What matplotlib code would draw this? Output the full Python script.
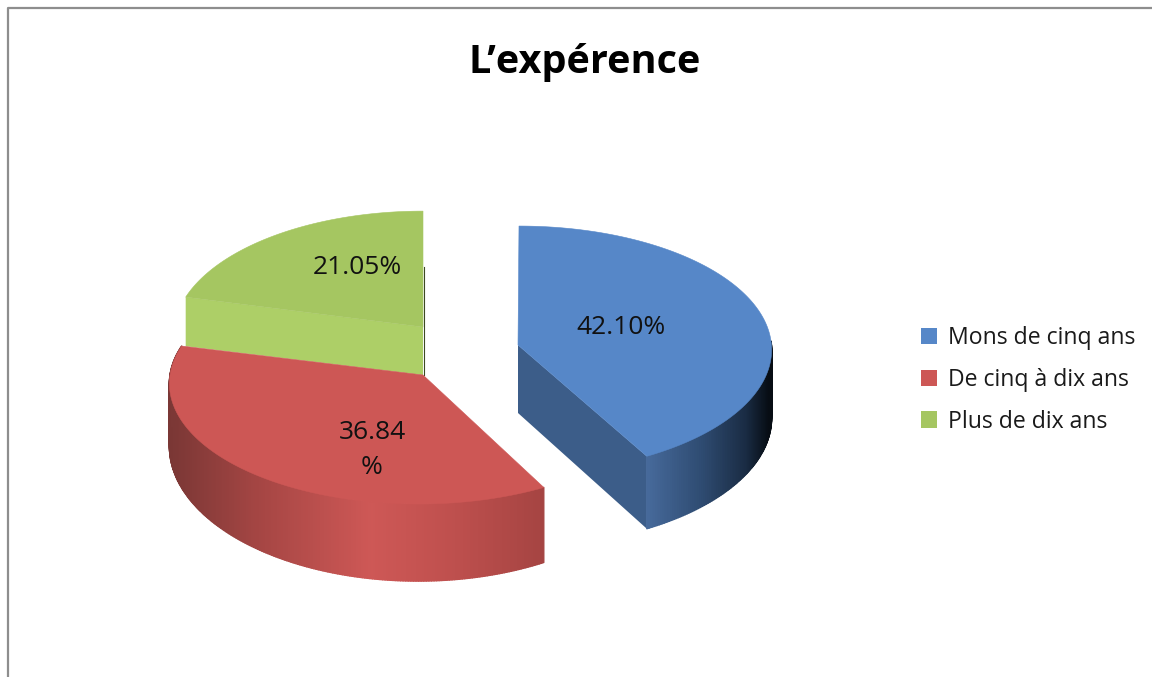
import numpy as np
import matplotlib
matplotlib.use("Agg")
import matplotlib.pyplot as plt
from matplotlib.patches import Polygon, Patch
from matplotlib.collections import PolyCollection

# ---- data ----
title = "L\u2019exp\u00e9rence"
categories = ["Mons de cinq ans", "De cinq \u00e0 dix ans", "Plus de dix ans"]
shares = [42.10, 36.84, 21.05]
value_labels = ["42.10%", "36.84\n%", "21.05%"]

# ---- style ----
FONT = "Open Sans"
top_colors = ["#5687C8", "#CD5755", "#A5C661"]
cut_colors = ["#3C5D89", None, "#ADCF67"]
apexes = [(518, 345), (423, 375), (423, 327)]
centers = [(519, 341), (418, 375), (423, 327)]
radii_x = [252, 248, 249]
radii_y = [123, 120, 124]
wall_h = [68, 62, 48]
wall_p = [1, 3, 1]
K = 0.07
wall_stops = [
    [(648, "#46699A"), (700, "#2F4C72"), (745, "#1A2C44"), (768, "#070D14")],
    [(169, "#7A3735"), (260, "#A64644"), (370, "#CE5856"), (450, "#BF504E"), (544, "#A54442")],
    None,
]

fig = plt.figure(figsize=(11.52, 6.77), dpi=100)
ax = fig.add_axes([0, 0, 1, 1])
ax.set_xlim(0, 1152)
ax.set_ylim(677, 0)
ax.axis("off")

# frame
ax.plot([8, 8, 1152], [677, 8, 8], color="#8E8E8E", lw=1.6, zorder=1)

fractions = np.array(shares) / np.sum(shares)
edges = np.concatenate([[0], np.cumsum(fractions)]) * 2 * np.pi


def wall_color(stops, x):
    xs = np.array([p[0] for p in stops], float)
    cols = np.array([matplotlib.colors.to_rgb(p[1]) for p in stops])
    return [float(np.interp(x, xs, cols[:, i])) for i in range(3)]


# drawing order: green (back), blue, red
for i in [2, 0, 1]:
    a0, a1 = edges[i], edges[i + 1]
    c, ap = centers[i], apexes[i]
    th = np.linspace(a0, a1, 240)
    u, v = np.sin(th), np.cos(th)
    s = 1 / (1 + K * v)
    x = c[0] + radii_x[i] * u * s
    y = c[1] - radii_y[i] * v * s
    h = wall_h[i] * s ** wall_p[i]
    z = 2 + i * 0.1 if i != 1 else 4

    # cut face
    if i == 0:
        ax.add_patch(Polygon([ap, (x[-1], y[-1]), (x[-1], y[-1] + h[-1]),
                              (ap[0], ap[1] + wall_h[i])],
                             fc=cut_colors[i], ec="none", zorder=z))
    if i == 2:
        ax.add_patch(Polygon([ap, (x[0], y[0]), (x[0], y[0] + h[0] + 2),
                              (ap[0], ap[1] + wall_h[i])],
                             fc=cut_colors[i], ec="none", zorder=z))
        ax.plot([ap[0] + 0.5] * 2, [ap[1] - 60, ap[1] + wall_h[i]], color="#3c4a24", lw=0.8, zorder=z)

    # outer wall, shaded by horizontal position
    if wall_stops[i] is not None:
        quads, cols = [], []
        for j in range(len(th) - 1):
            if th[j] < np.pi / 2:
                continue
            quads.append([(x[j], y[j]), (x[j + 1], y[j + 1]),
                          (x[j + 1], y[j + 1] + h[j + 1]), (x[j], y[j] + h[j])])
            cols.append(wall_color(wall_stops[i], 0.5 * (x[j] + x[j + 1])))
        ax.add_collection(PolyCollection(quads, facecolors=cols, edgecolors=cols,
                                         linewidths=1.0, zorder=z))

    # top face
    pts = [ap] + list(zip(x, y))
    ax.add_patch(Polygon(pts, fc=top_colors[i], ec=top_colors[i], lw=0.4, zorder=z + 0.05))

# value labels
label_pos = [(621, 328), (372, 450), (357, 268)]
for (lx, ly), t in zip(label_pos, value_labels):
    ax.text(lx, ly, t, ha="center", va="center", fontsize=19, family=FONT,
            color="#111111", linespacing=1.5, zorder=8)

ax.text(585, 62, title, ha="center", va="center", fontsize=28.5, fontweight="bold",
        family=FONT, color="black", zorder=8)

handles = [Patch(fc=col, ec="none", label=lab) for col, lab in zip(top_colors, categories)]
leg = ax.legend(handles=handles, loc="center left", bbox_to_anchor=(921 / 1152, 1 - 380 / 677),
                frameon=False, prop={"family": FONT, "size": 16.6},
                handlelength=0.7, handleheight=0.7, handletextpad=0.48,
                labelspacing=0.76, borderpad=0, borderaxespad=0)
for t in leg.get_texts():
    t.set_color("#1a1a1a")

fig.savefig("out.png", dpi=100, facecolor="white")
